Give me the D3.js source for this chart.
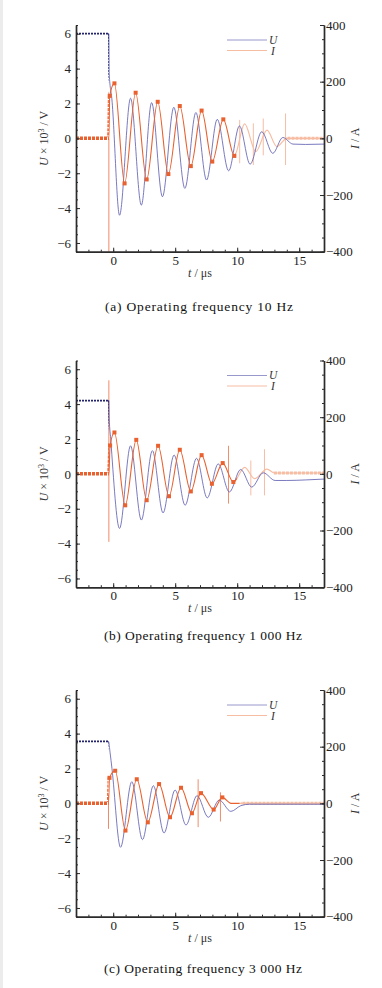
<!DOCTYPE html>
<html>
<head>
<meta charset="utf-8">
<script src="https://cdn.jsdelivr.net/npm/d3@7"></script>
<style>
  body { margin: 0; background: #fff; }
  svg { display: block; }
</style>
</head>
<body>
<script>
// tick labels
const tTicks = [0, 5, 10, 15];
const uTicks = [-6, -4, -2, 0, 2, 4, 6];
const iTicks = [-400, -200, 0, 200, 400];
const captions = [
  "(a)  Operating frequency 10 Hz",
  "(b)  Operating frequency 1 000 Hz",
  "(c)  Operating frequency 3 000 Hz",
];

// (a) 10 Hz
const uTimeA = [-3, -0.35, -0.32, -0.1, 0.51, 1.4, 2.27, 3.1, 3.97, 4.89, 5.78, 6.67, 7.53, 8.39, 9.31, 10.18, 11.04, 11.98, 12.87, 13.68, 14.5, 15.5, 17];
const uValA = [6, 6, 3.7, 2.2, -4.41, 2.3, -3.83, 2.05, -3.35, 1.78, -2.87, 1.48, -2.39, 1.09, -1.86, 0.71, -1.48, 0.38, -0.86, 0.05, -0.33, -0.35, -0.33];
const iTimeA = [-3, -0.35, -0.28, 0.1, 0.92, 1.81, 2.7, 3.59, 4.45, 5.37, 6.26, 7.13, 7.99, 8.88, 9.77, 10.6, 11.5, 12.4, 13.2, 14, 17];
const iValA = [0, 0, 150, 194, -159, 161, -145, 129, -126, 114, -98, 98, -82, 67, -62, 51, -47, 29, -29, 0, 0];
const spikeTimeA = [-0.35, 10.2, 11.3, 12.1, 13.9];
const spikeLowA = [-400, -88, -94, -60, -94];
const spikeHighA = [0, 65, 53, 70, 88];

// (b) 1 000 Hz
const uTimeB = [-3, -0.35, -0.32, -0.2, 0.51, 1.4, 2.27, 3.16, 4.02, 4.91, 5.8, 6.72, 7.58, 8.47, 9.37, 10.28, 11.17, 12.1, 13.06, 14, 15.5, 17];
const uValB = [4.2, 4.2, 3.2, 2.0, -3.13, 1.61, -2.65, 1.33, -2.24, 1.08, -1.8, 0.89, -1.38, 0.57, -1.04, 0.25, -0.76, 0.06, -0.38, -0.38, -0.35, -0.3];
const iTimeB = [-3, -0.35, -0.25, 0.1, 0.97, 1.86, 2.7, 3.62, 4.5, 5.37, 6.26, 7.13, 7.96, 8.83, 9.69, 10.6, 11.4, 12.4, 13, 17];
const iValB = [0, 0, 100, 146, -111, 120, -93, 99, -79, 85, -62, 66, -35, 38, -29, 23, -17, 17, 3, 3];
const spikeTimeB = [-0.35, 9.3, 11.1, 12.2];
const spikeLowB = [-240, -105, -76, -76];
const spikeHighB = [330, 99, 47, 87];

// (c) 3 000 Hz
const uTimeC = [-3, -0.38, -0.25, -0.1, 0.59, 1.5, 2.36, 3.24, 4.1, 4.99, 5.87, 6.76, 7.67, 8.55, 9.49, 10.3, 11, 17];
const uValC = [3.55, 3.55, 2.9, 2.0, -2.52, 1.24, -2.08, 1.01, -1.7, 0.76, -1.24, 0.44, -0.8, 0.19, -0.46, -0.13, -0.05, -0.05];
const iTimeC = [-3, -0.38, -0.3, 0.16, 0.99, 1.9, 2.79, 3.7, 4.58, 5.47, 6.35, 7.08, 8.1, 8.8, 9.5, 10.2, 17];
const iValC = [0, 0, 90, 115, -96, 85, -67, 68, -49, 55, -35, 36, -22, 21, 0, 0, 0];
const spikeTimeC = [-0.38, 6.85, 8.65];
const spikeLowC = [-90, -84, -64];
const spikeHighC = [30, 85, 39];

const panels = [
  { u: [uTimeA, uValA], i: [iTimeA, iValA], s: [spikeTimeA, spikeLowA, spikeHighA], trig: -0.35, fade: 9.9, tail: 13.9 },
  { u: [uTimeB, uValB], i: [iTimeB, iValB], s: [spikeTimeB, spikeLowB, spikeHighB], trig: -0.35, fade: 10.0, tail: 12.9 },
  { u: [uTimeC, uValC], i: [iTimeC, iValC], s: [spikeTimeC, spikeLowC, spikeHighC], trig: -0.38, fade: 10.2, tail: 10.3 },
];

const width = 382;
const height = 988;
const left = 76;
const right = 324;
const plotH = 226.7;
const tops = [25, 360.5, 690];
const captionY = [311, 640, 973];

const font = "'Liberation Serif', 'DejaVu Serif', serif";
const axisColor = "#2b2b2b";
const uColor = "#6262b4";
const uDark = "#23236e";
const iColor = "#e8612f";
const iFaded = "#f6bda3";

const svg = d3
  .select("body")
  .append("svg")
  .attr("width", width)
  .attr("height", height);

// thin grey strip on the left edge
svg.append("rect").attr("x", 0).attr("y", 0).attr("width", 3).attr("height", height).attr("fill", "#ececec");

const zip = (xs, ys) => xs.map((x, k) => ({ t: x, v: ys[k] }));

panels.forEach((p, n) => {
  const top = tops[n];
  const g = svg.append("g").attr("transform", `translate(0 ${top})`);

  const x = d3.scaleLinear().domain([-3, 17]).range([left, right]);
  const yU = d3.scaleLinear().domain([-6.5, 6.5]).range([plotH, 0]);
  const yI = d3.scaleLinear().domain([-400, 400]).range([plotH, 0]);

  const uData = zip(p.u[0], p.u[1]);
  const iData = zip(p.i[0], p.i[1]);

  const clip = (id, x0, x1) => {
    g.append("clipPath")
      .attr("id", id)
      .append("rect")
      .attr("x", x0)
      .attr("y", 0)
      .attr("width", x1 - x0)
      .attr("height", plotH);
    return `url(#${id})`;
  };

  const uLine = d3.line().curve(d3.curveMonotoneX).x((d) => x(d.t)).y((d) => yU(d.v));
  const iLine = d3.line().curve(d3.curveMonotoneX).x((d) => x(d.t)).y((d) => yI(d.v));

  const dataGroup = g.append("g");

  // current: faded part after the fade time
  dataGroup
    .append("path")
    .datum(iData)
    .attr("d", iLine)
    .attr("clip-path", clip(`fade${n}`, x(p.fade), right))
    .attr("fill", "none")
    .attr("stroke", iFaded)
    .attr("stroke-width", 1.2);

  dataGroup
    .append("path")
    .datum(iData)
    .attr("d", iLine)
    .attr("clip-path", clip(`tail${n}`, x(p.tail), right))
    .attr("fill", "none")
    .attr("stroke", iFaded)
    .attr("stroke-width", 3)
    .attr("stroke-dasharray", "3 1");

  // current spikes
  const spikes = p.s[0].map((t, k) => ({ t, lo: p.s[1][k], hi: p.s[2][k] }));
  dataGroup
    .append("g")
    .attr("clip-path", clip(`all${n}`, left, right))
    .selectAll("line")
    .data(spikes)
    .join("line")
    .attr("x1", (d) => x(d.t))
    .attr("x2", (d) => x(d.t))
    .attr("y1", (d) => yI(d.lo))
    .attr("y2", (d) => yI(d.hi))
    .attr("stroke", (d, k) => (k === 0 ? "#f08a68" : d.t < p.fade ? "#ee8f6c" : iFaded))
    .attr("stroke-width", 1);

  // voltage
  dataGroup
    .append("path")
    .datum(uData)
    .attr("d", uLine)
    .attr("clip-path", clip(`u${n}`, x(p.trig) - 1, right))
    .attr("fill", "none")
    .attr("stroke", uColor)
    .attr("stroke-width", 0.85);

  dataGroup
    .append("path")
    .datum(uData)
    .attr("d", uLine)
    .attr("clip-path", clip(`upre${n}`, left, x(p.trig)))
    .attr("fill", "none")
    .attr("stroke", uDark)
    .attr("stroke-width", 1.8)
    .attr("stroke-dasharray", "2 1");

  // current: strong part
  dataGroup
    .append("path")
    .datum(iData)
    .attr("d", iLine)
    .attr("clip-path", clip(`strong${n}`, x(p.trig), x(p.fade)))
    .attr("fill", "none")
    .attr("stroke", iColor)
    .attr("stroke-width", 1.1);

  dataGroup
    .append("path")
    .datum(iData)
    .attr("d", iLine)
    .attr("clip-path", clip(`ipre${n}`, left, x(p.trig)))
    .attr("fill", "none")
    .attr("stroke", iColor)
    .attr("stroke-width", 3.5)
    .attr("stroke-dasharray", "3 1");

  // markers at the current extremes
  dataGroup
    .append("g")
    .selectAll("rect")
    .data(iData.filter((d) => d.t > p.trig && d.t < p.fade && d.v !== 0))
    .join("rect")
    .attr("x", (d) => x(d.t) - 2)
    .attr("y", (d) => yI(d.v) - 2)
    .attr("width", 4)
    .attr("height", 4)
    .attr("fill", iColor);

  // axes
  const axisGroup = g.append("g");

  axisGroup
    .append("g")
    .attr("transform", `translate(${left} 0)`)
    .call(d3.axisLeft(yU).tickValues(yU.ticks(26)).tickSize(-2).tickSizeOuter(0).tickFormat(""));
  axisGroup
    .append("g")
    .attr("transform", `translate(${left} 0)`)
    .call(d3.axisLeft(yU).tickValues(uTicks).tickSize(-4).tickSizeOuter(0).tickPadding(5));

  axisGroup
    .append("g")
    .attr("transform", `translate(${right} 0)`)
    .call(d3.axisRight(yI).tickValues(yI.ticks(16)).tickSize(-2).tickSizeOuter(0).tickFormat(""));
  axisGroup
    .append("g")
    .attr("transform", `translate(${right} 0)`)
    .call(d3.axisRight(yI).tickValues(iTicks).tickSize(-4).tickSizeOuter(0).tickPadding(2));

  axisGroup
    .append("g")
    .attr("transform", `translate(0 ${plotH})`)
    .call(d3.axisBottom(x).tickValues(x.ticks(20)).tickSize(-2).tickSizeOuter(0).tickFormat(""));
  axisGroup
    .append("g")
    .attr("transform", `translate(0 ${plotH})`)
    .call(d3.axisBottom(x).tickValues(tTicks).tickSize(-4).tickSizeOuter(0).tickPadding(4));

  axisGroup.selectAll(".domain").attr("stroke", axisColor).attr("stroke-width", 1.4);
  axisGroup.selectAll(".tick line").attr("stroke", axisColor).attr("stroke-width", 1);
  axisGroup
    .selectAll("text")
    .attr("font-size", 13)
    .attr("font-family", font)
    .attr("fill", "#222");

  // axis titles
  g.append("text")
    .attr("transform", `translate(48 ${plotH / 2}) rotate(-90)`)
    .attr("text-anchor", "middle")
    .attr("font-size", 12)
    .attr("font-family", font)
    .attr("fill", "#333")
    .html(`<tspan font-style="italic">U</tspan> × 10<tspan dy="-4" font-size="8">3</tspan><tspan dy="4"> / V</tspan>`);

  g.append("text")
    .attr("transform", `translate(359 ${plotH / 2}) rotate(-90)`)
    .attr("text-anchor", "middle")
    .attr("font-size", 12)
    .attr("font-family", font)
    .attr("fill", "#333")
    .html(`<tspan font-style="italic">I</tspan> / A`);

  g.append("text")
    .attr("x", 200)
    .attr("y", plotH + 25)
    .attr("text-anchor", "middle")
    .attr("font-size", 12)
    .attr("font-family", font)
    .attr("fill", "#333")
    .html(`<tspan font-style="italic">t</tspan> / μs`);

  // legend
  const legend = g.append("g").attr("transform", "translate(227 15)");
  legend.append("path").attr("d", "M 0 0 h 40").attr("stroke", "#8c8cc6").attr("stroke-width", 0.9);
  legend.append("path").attr("d", "M 0 10.5 h 40").attr("stroke", iFaded).attr("stroke-width", 1);
  legend
    .append("text")
    .attr("x", 42)
    .attr("y", 3.5)
    .attr("font-size", 11.5)
    .attr("font-style", "italic")
    .attr("font-family", font)
    .attr("fill", "#333")
    .text("U");
  legend
    .append("text")
    .attr("x", 44)
    .attr("y", 14.5)
    .attr("font-size", 11.5)
    .attr("font-style", "italic")
    .attr("font-family", font)
    .attr("fill", "#333")
    .text("I");

  // caption
  svg
    .append("text")
    .attr("x", n === 0 ? 105 : 104)
    .attr("y", captionY[n])
    .attr("textLength", n === 0 ? 188 : 198)
    .attr("lengthAdjust", "spacing")
    .attr("font-size", 13.5)
    .attr("font-family", font)
    .attr("fill", "#111")
    .text(captions[n]);
});
</script>
</body>
</html>
